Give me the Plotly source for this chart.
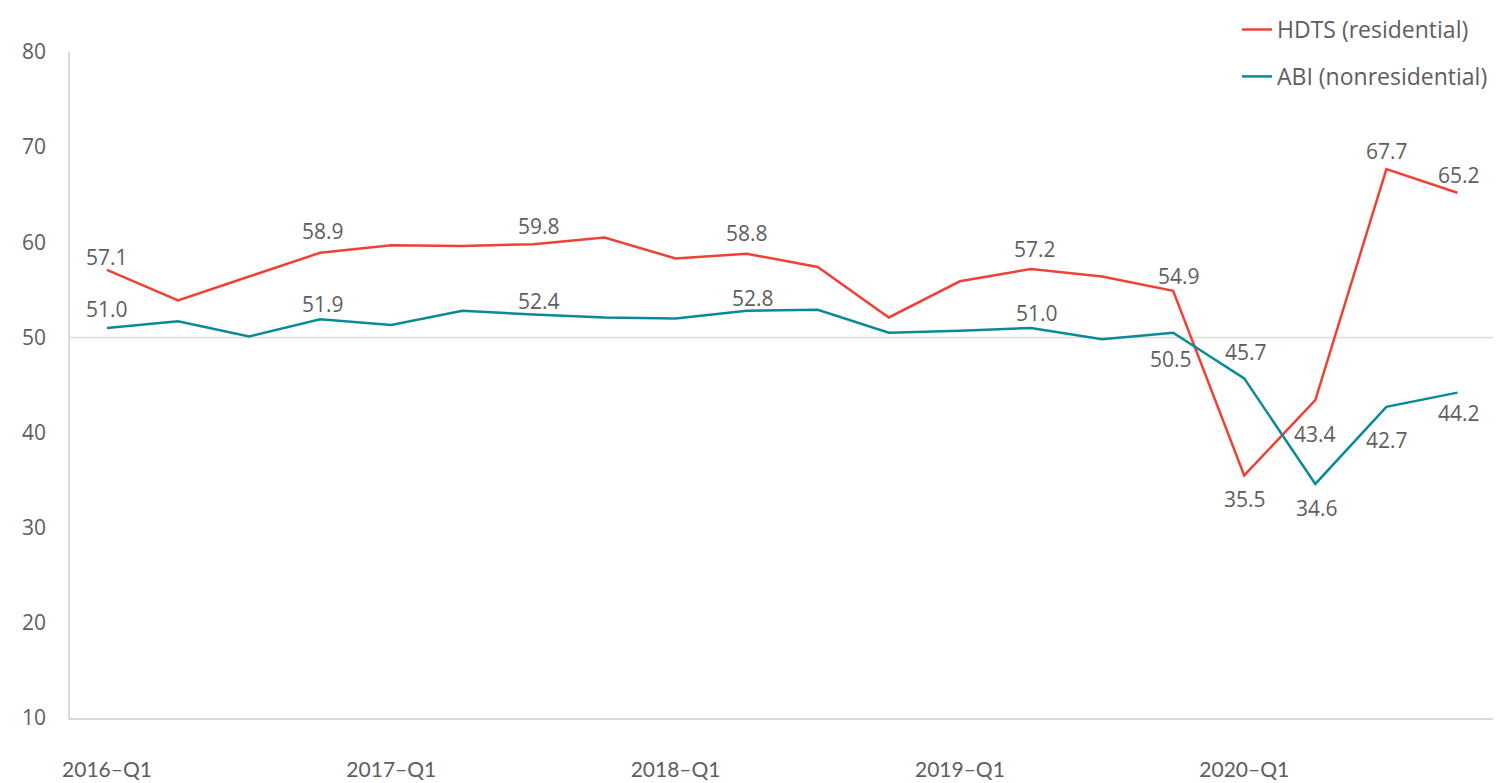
import plotly.graph_objects as go

quarters = [f'{y}-Q{q}' for y in range(2016, 2021) for q in range(1, 5)]
tick_labels = ['2016–Q1', '2017–Q1', '2018–Q1', '2019–Q1', '2020–Q1']

hdts = [57.1, 53.9, 56.4, 58.9, 59.7, 59.6, 59.8, 60.5, 58.3, 58.8,
        57.4, 52.1, 55.9, 57.2, 56.4, 54.9, 35.5, 43.4, 67.7, 65.2]
abi = [51.0, 51.7, 50.1, 51.9, 51.3, 52.8, 52.4, 52.1, 52.0, 52.8,
       52.9, 50.5, 50.7, 51.0, 49.8, 50.5, 45.7, 34.6, 42.7, 44.2]

# labelled points -> (xshift, yshift) of the value label in px
hdts_labels = {0: (0, 13), 3: (3, 22), 6: (6, 18), 9: (0, 21), 13: (4, 20),
               15: (6, 15), 16: (1, -24), 17: (0, -34), 18: (1, 18), 19: (2, 18)}
abi_labels = {0: (0, 19), 3: (3, 15), 6: (6, 14), 9: (6, 13), 13: (6, 15),
              15: (-2, -26), 16: (2, 26), 17: (2, -24), 18: (1, -33), 19: (2, -20)}

RED = '#EF4136'
TEAL = '#0A8A96'
GREY = '#5E5E5E'
TEXT_FONT = 'Open Sans, Arial, sans-serif'

fig = go.Figure()
for name, values, labels, color in [
    ('HDTS (residential)', hdts, hdts_labels, RED),
    ('ABI (nonresidential)', abi, abi_labels, TEAL),
]:
    fig.add_trace(go.Scatter(
        x=quarters, y=values, name=name, legendgroup=name,
        mode='lines', line={'color': color, 'width': 2.5},
        cliponaxis=False,
    ))
    for i, (dx, dy) in labels.items():
        fig.add_annotation(
            x=quarters[i], y=values[i], text=f'{values[i]:.1f}',
            showarrow=False, xshift=dx, yshift=dy,
            font={'size': 21, 'color': GREY, 'family': TEXT_FONT},
        )

fig.add_hline(y=50, line={'color': '#DADADA', 'width': 1.5}, layer='below')

fig.update_xaxes(
    type='category', range=[-0.52, 19.5],
    tickmode='array', tickvals=quarters[::4], ticktext=tick_labels,
    showgrid=False, zeroline=False,
    showline=True, linecolor='#DADADA', linewidth=1.5,
    ticks='outside', ticklen=32, tickcolor='rgba(0,0,0,0)',
    tickfont={'size': 21, 'color': GREY, 'family': 'Lato, sans-serif'},
)
fig.update_yaxes(
    range=[10, 80], dtick=10, showgrid=False, zeroline=False,
    showline=True, linecolor='#DADADA', linewidth=1.5,
    ticks='outside', ticklen=18, tickcolor='rgba(0,0,0,0)',
    tickfont={'size': 21, 'color': GREY, 'family': TEXT_FONT},
)

# page body adds an 8px offset, so the figure is sized to end at the window edge
fig.update_layout(
    width=1502, height=775,
    template='plotly_white',
    plot_bgcolor='white', paper_bgcolor='white',
    margin={'l': 62, 'r': 17, 't': 44, 'b': 65, 'autoexpand': False},
    showlegend=True,
    legend={
        'x': 1.0, 'xanchor': 'right', 'y': 1.066, 'yanchor': 'top',
        'font': {'size': 23, 'color': GREY, 'family': TEXT_FONT},
        'tracegroupgap': 14, 'bgcolor': 'rgba(0,0,0,0)',
    },
)

fig.write_html('out.html')
